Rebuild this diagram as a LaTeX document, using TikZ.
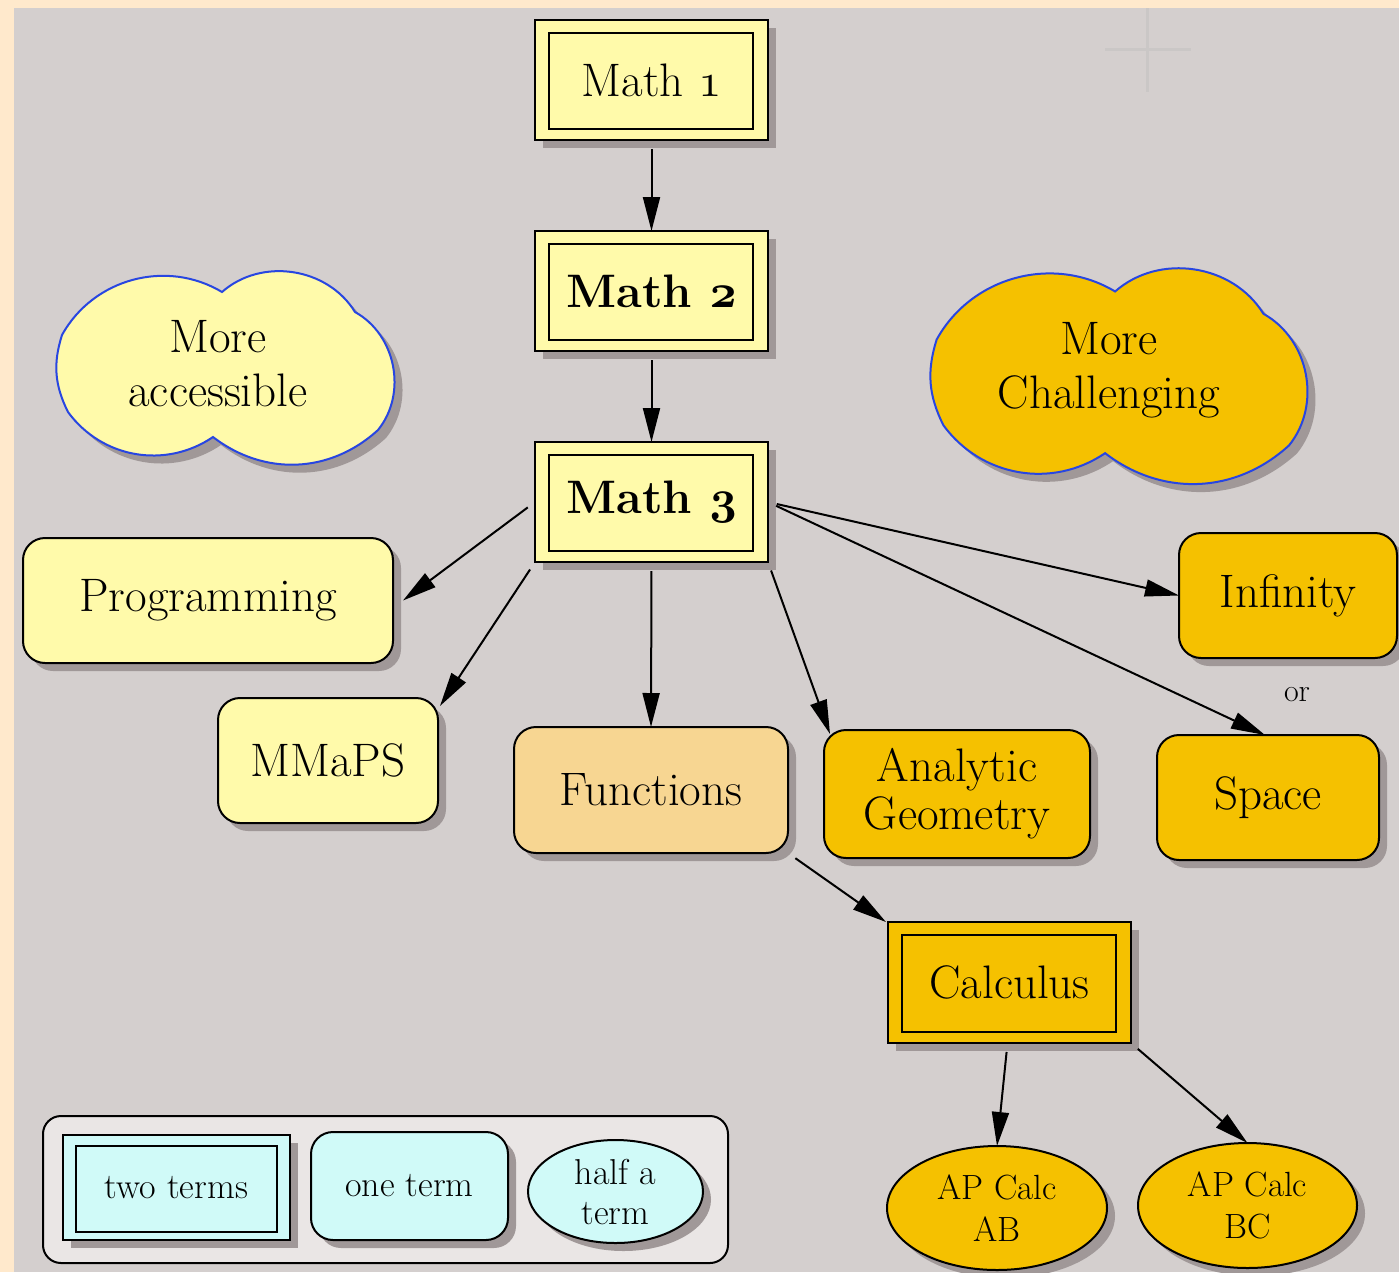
\documentclass[tikz,border=0pt]{standalone}
\usepackage{graphicx}
\usetikzlibrary{arrows.meta,shapes.geometric,shadows}
\definecolor{peach}{RGB}{255,233,204}
\definecolor{bggray}{RGB}{212,207,206}
\definecolor{crossc}{RGB}{202,199,198}
\definecolor{lyellow}{RGB}{255,250,170}
\definecolor{gold}{RGB}{245,193,0}
\definecolor{funcc}{RGB}{247,214,146}
\definecolor{lcyan}{RGB}{208,250,248}
\definecolor{legbg}{RGB}{234,230,229}
\definecolor{shadowc}{RGB}{160,152,152}
\definecolor{cloudblue}{RGB}{40,70,225}
\newcommand\osnum[1]{\resizebox{!}{20.5pt}{$\mathnormal{#1}$}}
\newcommand\osbnum[1]{\resizebox{!}{21pt}{\boldmath$\mathnormal{#1}$}}
\tikzset{
  shad/.style={drop shadow={shadow xshift=8pt,shadow yshift=-8pt,fill=shadowc,opacity=1}},
  base/.style={inner sep=0pt,outer sep=0pt,align=center,font=\fontsize{47}{54}\selectfont},
  dblbox/.style={base,shad,draw=black,line width=2pt,rectangle,
    path picture={\draw[line width=2pt] ([shift={(14pt,-13pt)}]path picture bounding box.north west) rectangle ([shift={(-15pt,11pt)}]path picture bounding box.south east);}},
  rbox/.style={base,shad,draw=black,line width=2pt,rectangle,rounded corners=22pt},
  oval/.style={base,shad,draw=black,line width=2pt,ellipse,font=\fontsize{35}{42}\selectfont},
  conn/.style={line width=2pt,-{Triangle[length=34pt,width=17pt]},shorten <=9pt},
  smallf/.style={font=\fontsize{36}{40}\selectfont},
  cloudp/.style={insert path={(-159,-31) to[bend left=46] (1,-74)
    to[bend left=50] (134,-54) to[bend left=50] (157,64)
    to[bend left=40] (-8,71) to[bend left=44] (-153,46)
    to[bend left=22] cycle}}
}
\begin{document}
\begin{tikzpicture}[x=1pt,y=-1pt]
\useasboundingbox (0,0) rectangle (1399,1272);
\fill[peach] (0,0) rectangle (1399,1272);
\fill[bggray] (14,8) rectangle (1399,1272);
\draw[crossc,line width=3pt] (1147,8) -- (1147,92) (1105,49) -- (1191,49);

% clouds (drawn shapes)
\begin{scope}[shift={(229,374)}]
  \fill[shadowc] [cloudp];
\end{scope}
\begin{scope}[shift={(221,366)}]
  \filldraw[fill=lyellow,draw=cloudblue,line width=2pt] [cloudp];
\end{scope}
\begin{scope}[shift={(1122,382)},scale=1.115]
  \fill[shadowc] [cloudp];
\end{scope}
\begin{scope}[shift={(1114,374)},scale=1.115]
  \filldraw[fill=gold,draw=cloudblue,line width=2pt] [cloudp];
\end{scope}
\node[base] (acc) at (218,364) {More\\accessible};
\node[base] (chal) at (1109,370) {More\\Challenging};

% main nodes
\node[dblbox,fill=lyellow,minimum width=233pt,minimum height=120pt] (m1) at (651.5,80) {Math \osnum{1}};
\node[dblbox,fill=lyellow,minimum width=233pt,minimum height=120pt] (m2) at (651.5,291) {\bfseries Math \osbnum{2}};
\node[dblbox,fill=lyellow,minimum width=233pt,minimum height=120pt] (m3) at (651.5,502) {\bfseries Math \osbnum{3}};

\node[rbox,fill=lyellow,minimum width=370pt,minimum height=125pt] (prog) at (208,600.5) {Programming};
\node[rbox,fill=lyellow,minimum width=220pt,minimum height=125pt] (mmaps) at (328,760.5) {MMaPS};
\node[rbox,fill=funcc,minimum width=274pt,minimum height=126pt] (func) at (651,790) {Functions};
\node[rbox,fill=gold,minimum width=266pt,minimum height=128pt] (ag) at (957,794) {Analytic\\[-6pt]Geometry};
\node[rbox,fill=gold,minimum width=218pt,minimum height=125pt] (inf) at (1288,595.5) {Infinity};
\node[rbox,fill=gold,minimum width=222pt,minimum height=125pt] (space) at (1268,797.5) {Space};
\node[base,font=\fontsize{32}{36}\selectfont] (or) at (1297,695) {or};

\node[dblbox,fill=gold,minimum width=243pt,minimum height=121pt] (calc) at (1009.5,982.5) {Calculus};
\node[oval,fill=gold,minimum width=220pt,minimum height=124pt] (ab) at (997,1208) {AP Calc\\AB};
\node[oval,fill=gold,minimum width=219pt,minimum height=125pt] (bc) at (1247.5,1205.5) {AP Calc\\BC};

% legend
\node[base,draw=black,line width=2pt,fill=legbg,rounded corners=18pt,minimum width=685pt,minimum height=147pt] (leg) at (385.5,1189.5) {};
\node[dblbox,smallf,fill=lcyan,minimum width=227pt,minimum height=105pt,
  path picture={\draw[line width=2pt] ([shift={(13pt,-11pt)}]path picture bounding box.north west) rectangle ([shift={(-13pt,8pt)}]path picture bounding box.south east);}] (two) at (176.5,1187.5) {two terms};
\node[rbox,smallf,fill=lcyan,minimum width=197pt,minimum height=108pt] (one) at (409.5,1186) {one term};
\node[oval,smallf,fill=lcyan,minimum width=175pt,minimum height=103pt] (half) at (615.5,1191.5) {half a\\term};

% connectors
\draw[conn] (m1) -- (m2);
\draw[conn] (m2) -- (m3);
\draw[conn] (m3.west) -- ([xshift=10pt]prog.east);
\draw[conn] (m3.south west) -- ([xshift=2pt,yshift=-8pt]mmaps.north east);
\draw[conn] (m3.south) -- (func.north);
\draw[conn] (m3.south east) -- ([xshift=6pt,yshift=-4pt]ag.north west);
\draw[conn] (m3.east) -- (inf.west);
\draw[conn] (m3.east) -- ([xshift=-3pt]space.north);
\draw[conn] (func.south east) -- ([xshift=-2pt]calc.north west);
\draw[conn] ([xshift=-2pt]calc.south) -- (ab.north);
\draw[conn] (calc.south east) -- (bc.north);
\end{tikzpicture}
\end{document}
